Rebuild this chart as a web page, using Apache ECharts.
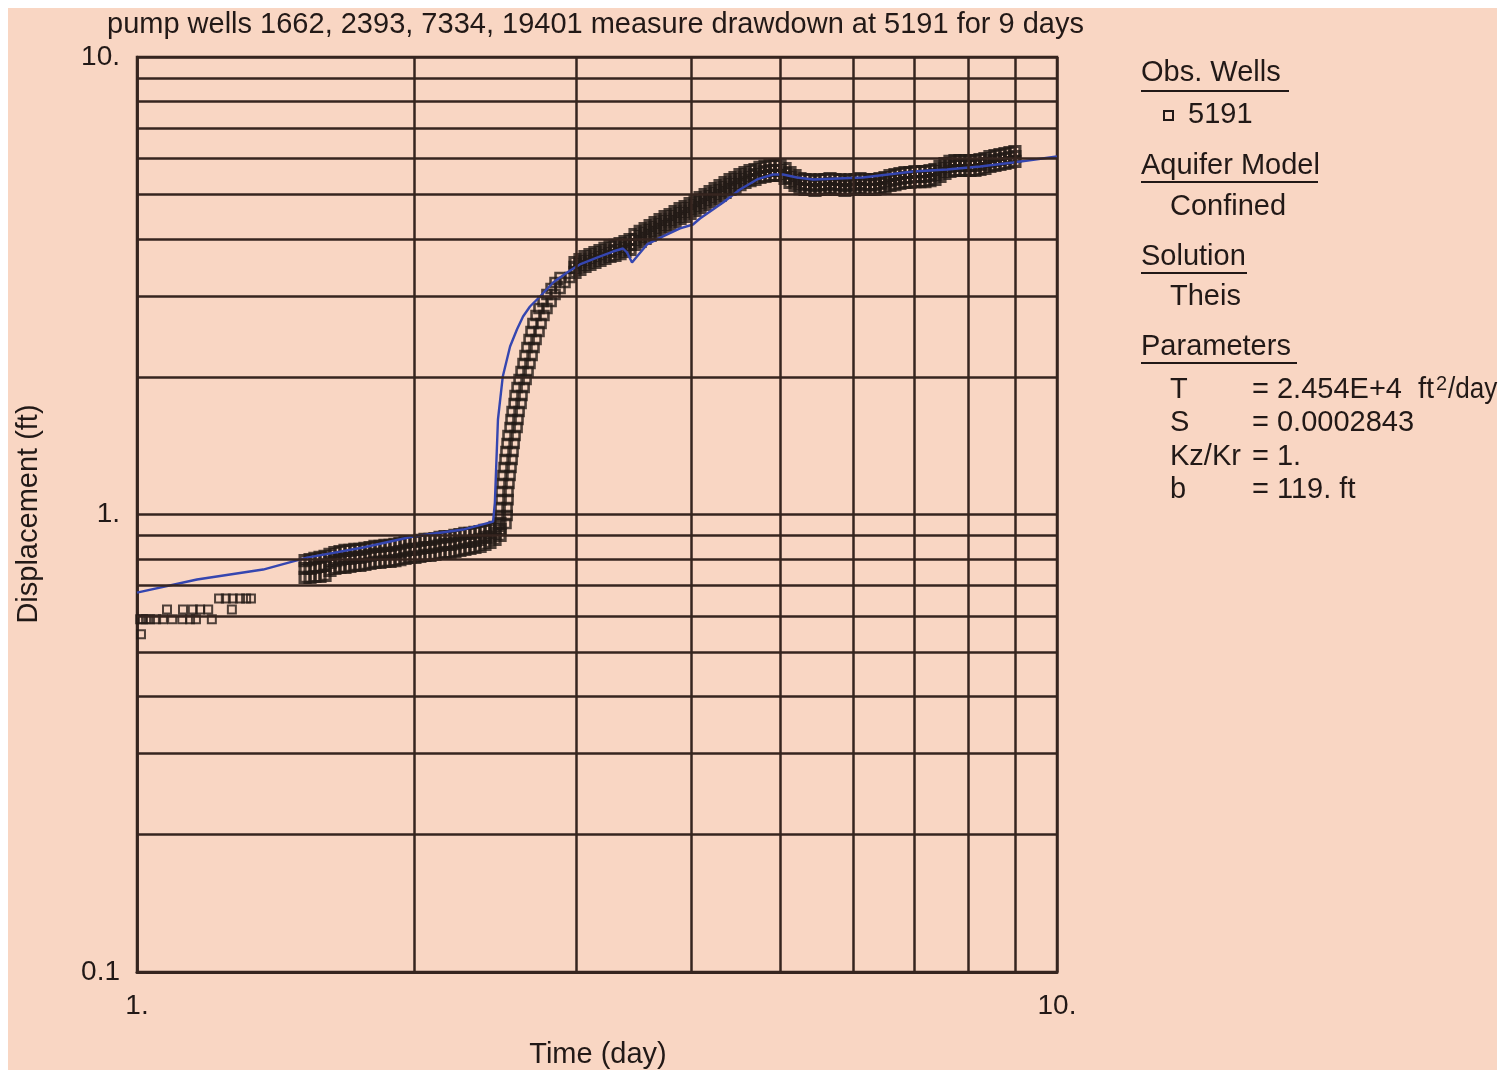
<!DOCTYPE html>
<html>
<head>
<meta charset="utf-8">
<title>Drawdown at 5191</title>
<script src="https://cdn.jsdelivr.net/npm/echarts@6/dist/echarts.min.js"></script>
<style>
html, body { margin: 0; padding: 0; background: #fff; }
#paper { position: absolute; left: 8px; top: 8px; width: 1489px; height: 1062px; background: #f9d6c3; }
#main { position: absolute; left: 0; top: 0; width: 1502px; height: 1074px; }
</style>
</head>
<body>
<div id="paper"></div>
<div id="main"></div>
<script type="text/javascript">
// tick labels (one per decade)
var xTickLabels = ['1.', '10.'];          // 10^0, 10^1
var yTickLabels = ['0.1', '1.', '10.'];   // 10^-1, 10^0, 10^1
// minor grid lines inside each decade
var xMinor = [2, 3, 4, 5, 6, 7, 8, 9];
var yMinor = [0.2, 0.3, 0.4, 0.5, 0.6, 0.7, 0.8, 0.9, 2, 3, 4, 5, 6, 7, 8, 9];

var earlyTime = [1.010, 1.008, 1.015, 1.023, 1.033, 1.049, 1.067, 1.092, 1.120, 1.142, 1.159, 1.206,
                 1.078, 1.122, 1.150, 1.171, 1.195, 1.268,
                 1.228, 1.249, 1.271, 1.294, 1.314, 1.330];
var earlyDisp = [0.547, 0.590, 0.590, 0.590, 0.590, 0.590, 0.590, 0.590, 0.590, 0.590, 0.590, 0.590,
                 0.620, 0.620, 0.620, 0.620, 0.620, 0.620,
                 0.655, 0.655, 0.655, 0.655, 0.655, 0.655];

var flatTime = [1.523, 1.542, 1.561, 1.581, 1.601, 1.621, 1.641, 1.662, 1.683, 1.704, 1.725, 1.747, 1.769, 1.792,
                1.814, 1.837, 1.860, 1.884, 1.907, 1.931, 1.956, 1.980, 2.005, 2.030, 2.056, 2.082, 2.108, 2.135,
                2.162, 2.189, 2.216, 2.244, 2.272, 2.301, 2.330, 2.360, 2.389, 2.419, 2.450, 2.481];
var flatHigh = [0.793, 0.797, 0.802, 0.806, 0.810, 0.818, 0.826, 0.830, 0.835, 0.835, 0.839, 0.839, 0.843, 0.847,
                0.852, 0.852, 0.856, 0.856, 0.860, 0.864, 0.869, 0.873, 0.873, 0.878, 0.882, 0.882, 0.886, 0.891,
                0.895, 0.895, 0.900, 0.904, 0.909, 0.909, 0.914, 0.918, 0.923, 0.927, 0.937, 0.956];
var flatMid  = [0.762, 0.762, 0.766, 0.770, 0.774, 0.786, 0.793, 0.797, 0.802, 0.802, 0.806, 0.806, 0.810, 0.814,
                0.818, 0.818, 0.822, 0.822, 0.826, 0.830, 0.835, 0.839, 0.839, 0.843, 0.847, 0.847, 0.852, 0.856,
                0.860, 0.860, 0.864, 0.869, 0.873, 0.873, 0.878, 0.882, 0.891, 0.895, 0.909, 0.927];
var flatLow  = [0.729, 0.729, 0.732, 0.732, 0.736, 0.755, 0.762, 0.766, 0.766, 0.770, 0.774, 0.774, 0.778, 0.782,
                0.786, 0.786, 0.790, 0.790, 0.793, 0.797, 0.802, 0.806, 0.806, 0.810, 0.814, 0.814, 0.818, 0.822,
                0.826, 0.826, 0.830, 0.835, 0.839, 0.843, 0.847, 0.852, 0.860, 0.869, 0.882, 0.900];

var riseDisp  = [0.956, 0.995, 1.036, 1.078, 1.123, 1.169, 1.217, 1.267, 1.319, 1.373, 1.430, 1.488, 1.549, 1.613,
                 1.679, 1.748, 1.820, 1.895, 1.973, 2.054, 2.138, 2.226, 2.318, 2.413, 2.512, 2.616, 2.723, 2.821,
                 2.922, 3.026, 3.119, 3.215, 3.297];
var riseTimeA = [2.474, 2.481, 2.481, 2.487, 2.487, 2.493, 2.499, 2.506, 2.512, 2.518, 2.525, 2.531, 2.544, 2.550,
                 2.557, 2.570, 2.576, 2.589, 2.602, 2.615, 2.628, 2.641, 2.654, 2.668, 2.681, 2.694, 2.715, 2.735,
                 2.763, 2.790, 2.819, 2.847, 2.883];
var riseTimeB = [2.518, 2.525, 2.525, 2.531, 2.531, 2.537, 2.544, 2.550, 2.557, 2.563, 2.570, 2.576, 2.589, 2.595,
                 2.602, 2.615, 2.621, 2.635, 2.648, 2.661, 2.674, 2.688, 2.701, 2.715, 2.735, 2.749, 2.769, 2.790,
                 2.819, 2.847, 2.883, 2.919, 2.956];

var lateTime = [2.993, 3.030, 3.069, 3.107, 3.146, 3.186, 3.226, 3.267, 3.308, 3.350, 3.392, 3.435, 3.478, 3.523,
                3.567, 3.612, 3.657, 3.703, 3.750, 3.797, 3.845, 3.893, 3.942, 3.992, 4.042, 4.093, 4.145, 4.197,
                4.250, 4.303, 4.357, 4.412, 4.467, 4.523, 4.580, 4.638, 4.696, 4.755, 4.815, 4.876, 4.937, 5.000,
                5.063, 5.126, 5.191, 5.256, 5.322, 5.389, 5.457, 5.526, 5.595, 5.666, 5.737, 5.809, 5.882, 5.957,
                6.032, 6.107, 6.184, 6.262, 6.341, 6.421, 6.502, 6.584, 6.666, 6.750, 6.835, 6.921, 7.008, 7.097,
                7.186, 7.277, 7.368, 7.461, 7.555, 7.650, 7.746, 7.844, 7.943, 8.043, 8.144, 8.247, 8.350, 8.455,
                8.562, 8.670, 8.779, 8.889, 9.000];
var lateHigh = [3.555, 3.609, 3.664, 3.701, 3.738, 3.776, 3.815, 3.853, 3.873, 3.912, 3.951, 3.991, 4.093, 4.156,
                4.218, 4.282, 4.348, 4.414, 4.481, 4.526, 4.595, 4.665, 4.712, 4.784, 4.856, 4.931, 5.006, 5.082,
                5.158, 5.237, 5.317, 5.398, 5.453, 5.536, 5.592, 5.648, 5.677, 5.735, 5.764, 5.793, 5.793, 5.793,
                5.706, 5.592, 5.508, 5.425, 5.398, 5.398, 5.370, 5.398, 5.398, 5.425, 5.398, 5.398, 5.370, 5.398,
                5.398, 5.425, 5.398, 5.398, 5.398, 5.425, 5.453, 5.508, 5.536, 5.563, 5.592, 5.592, 5.620, 5.620,
                5.620, 5.648, 5.677, 5.764, 5.851, 5.911, 5.940, 5.940, 5.940, 5.940, 5.940, 5.970, 6.000, 6.060,
                6.091, 6.122, 6.152, 6.184, 6.215];
var lateMid  = [3.467, 3.520, 3.573, 3.609, 3.645, 3.682, 3.719, 3.757, 3.776, 3.815, 3.853, 3.892, 3.991, 4.052,
                4.114, 4.177, 4.240, 4.304, 4.370, 4.414, 4.481, 4.549, 4.595, 4.665, 4.736, 4.808, 4.881, 4.956,
                5.031, 5.108, 5.184, 5.263, 5.317, 5.398, 5.453, 5.508, 5.536, 5.592, 5.620, 5.648, 5.648, 5.648,
                5.563, 5.453, 5.370, 5.290, 5.263, 5.263, 5.237, 5.263, 5.263, 5.290, 5.263, 5.263, 5.237, 5.263,
                5.263, 5.290, 5.263, 5.263, 5.263, 5.290, 5.317, 5.370, 5.398, 5.425, 5.453, 5.453, 5.480, 5.480,
                5.480, 5.508, 5.536, 5.620, 5.706, 5.764, 5.793, 5.793, 5.793, 5.793, 5.793, 5.822, 5.851, 5.911,
                5.940, 5.970, 6.000, 6.030, 6.060];
var lateLow  = [3.381, 3.432, 3.484, 3.520, 3.555, 3.591, 3.627, 3.664, 3.682, 3.719, 3.757, 3.795, 3.892, 3.951,
                4.012, 4.073, 4.135, 4.198, 4.261, 4.304, 4.370, 4.436, 4.481, 4.549, 4.618, 4.688, 4.760, 4.832,
                4.906, 4.981, 5.057, 5.134, 5.184, 5.263, 5.317, 5.370, 5.398, 5.453, 5.480, 5.508, 5.508, 5.508,
                5.425, 5.317, 5.237, 5.158, 5.134, 5.134, 5.108, 5.134, 5.134, 5.158, 5.134, 5.134, 5.108, 5.134,
                5.134, 5.158, 5.134, 5.134, 5.134, 5.158, 5.184, 5.237, 5.263, 5.290, 5.317, 5.317, 5.343, 5.343,
                5.343, 5.370, 5.398, 5.480, 5.563, 5.620, 5.648, 5.648, 5.648, 5.648, 5.648, 5.677, 5.706, 5.764,
                5.793, 5.822, 5.851, 5.881, 5.911];

// Theis type curve
var theisTime = [1.000, 1.162, 1.371, 1.530, 1.761, 1.995, 2.262, 2.438, 2.449, 2.468, 2.498, 2.544, 2.588, 2.628,
                 2.674, 2.742, 2.833, 2.934, 3.030, 3.162, 3.291, 3.375, 3.409, 3.452, 3.495, 3.584, 3.730, 3.893,
                 4.021, 4.092, 4.335, 4.523, 4.720, 4.913, 5.038, 5.217, 5.431, 6.153, 6.976, 7.594, 8.250, 8.960, 10.0];
var theisDisp = [0.675, 0.721, 0.758, 0.805, 0.847, 0.895, 0.927, 0.965, 1.062, 1.613, 2.003, 2.329, 2.537, 2.709,
                 2.849, 2.996, 3.215, 3.381, 3.520, 3.645, 3.757, 3.814, 3.738, 3.555, 3.664, 3.893, 4.053, 4.220,
                 4.304, 4.436, 4.808, 5.134, 5.399, 5.536, 5.536, 5.453, 5.399, 5.453, 5.619, 5.676, 5.762, 5.879, 6.061];

var ink = '#221917';
var gridInk = '#36251f';
var font = 'Liberation Sans, Arial, sans-serif';

function pairs(xs, ys) {
	var out = [];
	for (var i = 0; i < xs.length; i++) out.push([xs[i], ys[i]]);
	return out;
}

var obsEarly = pairs(earlyTime, earlyDisp);
var obsRise = [].concat(pairs(riseTimeA, riseDisp), pairs(riseTimeB, riseDisp));
var obsDense = [].concat(
	pairs(flatTime, flatHigh), pairs(flatTime, flatMid), pairs(flatTime, flatLow),
	pairs(lateTime, lateHigh), pairs(lateTime, lateMid), pairs(lateTime, lateLow)
);

var gridMarks = xMinor.map(function (v) { return { xAxis: v }; })
	.concat(yMinor.map(function (v) { return { yAxis: v }; }));

function txt(x, y, s, size, align) {
	return {
		type: 'text', x: x, y: y, z: 10,
		style: { text: s, font: (size || 29) + 'px ' + font, fill: ink,
			textAlign: align || 'left', textVerticalAlign: 'middle' }
	};
}
function uline(x1, x2, y) {
	return { type: 'line', z: 10, shape: { x1: x1, y1: y, x2: x2, y2: y },
		style: { stroke: ink, lineWidth: 2 } };
}

var myChart = echarts.init(document.getElementById('main'));
var option = {
	animation: false,
	backgroundColor: 'transparent',
	grid: {
		left: 137, top: 57, width: 920, height: 915,
		show: true, borderColor: gridInk, borderWidth: 2.5,
		outerBoundsMode: 'none'
	},
	xAxis: {
		type: 'log', logBase: 10, min: 1, max: 10,
		axisLine: { show: true, lineStyle: { color: gridInk, width: 3 } },
		axisTick: { show: false },
		splitLine: { show: true, lineStyle: { color: gridInk, width: 2.5 } },
		axisLabel: {
			color: ink, fontSize: 28, fontFamily: font, margin: 20,
			formatter: function (v) { return xTickLabels[Math.round(Math.log10(v))]; }
		}
	},
	yAxis: {
		type: 'log', logBase: 10, min: 0.1, max: 10, splitNumber: 2,
		axisLine: { show: true, lineStyle: { color: gridInk, width: 2.5 } },
		axisTick: { show: false },
		splitLine: { show: true, lineStyle: { color: gridInk, width: 2.5 } },
		axisLabel: {
			color: ink, fontSize: 28, fontFamily: font, margin: 17,
			formatter: function (v) { return yTickLabels[Math.round(Math.log10(v)) + 1]; }
		}
	},
	series: [
		{
			type: 'line', data: [], z: 1, silent: true,
			markLine: {
				silent: true, symbol: ['none', 'none'], label: { show: false },
				lineStyle: { color: gridInk, width: 2.5, type: 'solid' },
				emphasis: { disabled: true },
				data: gridMarks
			}
		},
		{
			name: '5191', type: 'scatter', z: 3, silent: true,
			symbol: 'rect', symbolSize: 8,
			itemStyle: { color: 'transparent', borderColor: '#231a17', borderWidth: 2 },
			data: obsEarly
		},
		{
			name: '5191', type: 'scatter', z: 3, silent: true,
			symbol: 'rect', symbolSize: 9,
			itemStyle: { color: 'transparent', borderColor: '#231a17', borderWidth: 2.6 },
			data: obsRise
		},
		{
			name: '5191', type: 'scatter', z: 3, silent: true,
			symbol: 'rect', symbolSize: 10,
			itemStyle: { color: 'transparent', borderColor: '#231a17', borderWidth: 3.2 },
			data: obsDense
		},
		{
			name: 'Theis', type: 'line', z: 4, showSymbol: false, silent: true,
			lineStyle: { color: '#3546b0', width: 2.4 },
			data: pairs(theisTime, theisDisp)
		}
	],
	graphic: [
		txt(107, 25, 'pump wells 1662, 2393, 7334, 19401 measure drawdown at 5191 for 9 days'),
		txt(598, 1055, 'Time (day)', 29, 'center'),
		{
			type: 'text', x: 29, y: 514, rotation: Math.PI / 2, z: 10,
			style: { text: 'Displacement (ft)', font: '29px ' + font, fill: ink,
				textAlign: 'center', textVerticalAlign: 'middle' }
		},
		txt(1141, 73, 'Obs. Wells'), uline(1141, 1289, 91),
		{ type: 'rect', z: 10, shape: { x: 1164, y: 111, width: 9, height: 9 },
			style: { fill: 'none', stroke: ink, lineWidth: 2 } },
		txt(1188, 115, '5191'),
		txt(1141, 166, 'Aquifer Model'), uline(1141, 1318, 182),
		txt(1170, 207, 'Confined'),
		txt(1141, 257, 'Solution'), uline(1141, 1247, 273),
		txt(1170, 297, 'Theis'),
		txt(1141, 347, 'Parameters'), uline(1141, 1297, 363),
		txt(1170, 390, 'T'), txt(1252, 390, '= 2.454E+4'), txt(1418, 390, 'ft'),
		txt(1436, 384, '2', 20),
		{
			type: 'text', x: 1448, y: 390, scaleX: 0.9, z: 10,
			style: { text: '/day', font: '29px ' + font, fill: ink,
				textAlign: 'left', textVerticalAlign: 'middle' }
		},
		txt(1170, 423, 'S'), txt(1252, 423, '= 0.0002843'),
		txt(1170, 457, 'Kz/Kr'), txt(1252, 457, '= 1.'),
		txt(1170, 490, 'b'), txt(1252, 490, '= 119. ft')
	]
};
myChart.setOption(option);
</script>
</body>
</html>
